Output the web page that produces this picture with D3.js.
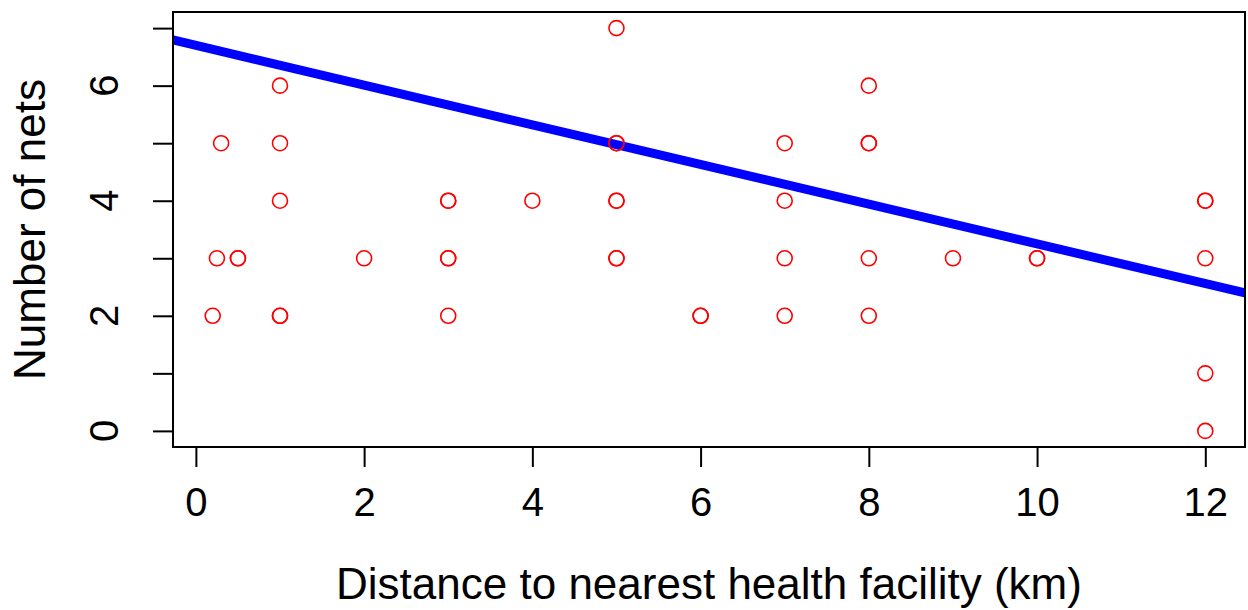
<!DOCTYPE html>
<html>
<head>
<meta charset="utf-8">
<script src="https://cdn.jsdelivr.net/npm/d3@7"></script>
<style>
  body { margin: 0; background: #fff; }
  text { font-family: "Liberation Sans", Arial, sans-serif; fill: #000; }
</style>
</head>
<body>
<div id="my_dataviz"></div>
<script>

// data (repeated pairs = overlapping points)
var distance = [0.2, 0.25, 0.3, 0.5, 0.5,
                1, 1, 1, 1, 1,
                2,
                3, 3, 3, 3, 3,
                4,
                5, 5, 5, 5, 5, 5, 5,
                6, 6,
                7, 7, 7, 7,
                8, 8, 8, 8, 8,
                9,
                10, 10,
                12, 12, 12, 12, 12];
var nets     = [2, 3, 5, 3, 3,
                6, 5, 4, 2, 2,
                3,
                4, 4, 3, 3, 2,
                4,
                7, 5, 5, 4, 4, 3, 3,
                2, 2,
                5, 4, 3, 2,
                6, 5, 5, 3, 2,
                3,
                3, 3,
                4, 4, 3, 1, 0];

// fitted line (intercept, slope)
var fitIntercept = 6.70;
var fitSlope = -0.345;

var xTicks = [0, 2, 4, 6, 8, 10, 12];
var yTicks = [0, 1, 2, 3, 4, 5, 6, 7];
var yLabels = [0, 2, 4, 6];

// set the dimensions and margins of the graph
var margin = {top: 12, right: 3, bottom: 163, left: 173},
    width = 1248 - margin.left - margin.right,
    height = 610 - margin.top - margin.bottom;

var svg = d3.select("#my_dataviz")
  .append("svg")
    .attr("width", 1248)
    .attr("height", 610);

var chart = svg.append("g")
    .attr("transform", "translate(" + margin.left + "," + margin.top + ")");

// R style 4% padding on each side
var xPad = (d3.max(distance) - d3.min(distance)) * 0.04;
var yPad = (d3.max(nets) - d3.min(nets)) * 0.04;

var x = d3.scaleLinear()
  .domain([d3.min(distance) - xPad, d3.max(distance) + xPad])
  .range([0, width]);

var y = d3.scaleLinear()
  .domain([d3.min(nets) - yPad, d3.max(nets) + yPad])
  .range([height, 0]);

// X axis
var xAxis = chart.append("g")
  .attr("transform", "translate(0," + height + ")")
  .call(d3.axisBottom(x).tickValues(xTicks).tickSize(20).tickPadding(21));
xAxis.select(".domain").remove();
xAxis.selectAll(".tick line").attr("stroke", "#000").attr("stroke-width", 2);
xAxis.selectAll(".tick text")
  .style("font-size", "40px")
  .style("font-family", "'Liberation Sans', Arial, sans-serif")
  .attr("fill", "#000");

// Y axis (labels rotated, only every second one)
var yAxis = chart.append("g")
  .call(d3.axisLeft(y).tickValues(yTicks).tickSize(20).tickFormat(""));
yAxis.select(".domain").remove();
yAxis.selectAll(".tick line").attr("stroke", "#000").attr("stroke-width", 2);

chart.append("g")
  .selectAll("text")
  .data(yLabels)
  .enter()
  .append("text")
    .attr("transform", function(d) { return "translate(" + (118 - margin.left) + "," + y(d) + ") rotate(-90)"; })
    .attr("text-anchor", "middle")
    .style("font-size", "40px")
    .text(function(d) { return d; });

// X label
chart.append("text")
  .attr("text-anchor", "middle")
  .attr("x", width / 2)
  .attr("y", height + 152)
  .style("font-size", "44px")
  .text("Distance to nearest health facility (km)");

// Y label
chart.append("text")
  .attr("text-anchor", "middle")
  .attr("transform", "translate(" + (45 - margin.left) + "," + (height / 2) + ") rotate(-90)")
  .style("font-size", "44px")
  .text("Number of nets");

// clip for the regression line
chart.append("clipPath")
  .attr("id", "plotclip")
  .append("rect")
    .attr("width", width)
    .attr("height", height);

var xs = x.domain();
chart.append("line")
  .attr("clip-path", "url(#plotclip)")
  .attr("x1", x(xs[0]))
  .attr("y1", y(fitIntercept + fitSlope * xs[0]))
  .attr("x2", x(xs[1]))
  .attr("y2", y(fitIntercept + fitSlope * xs[1]))
  .attr("stroke", "#0000ff")
  .attr("stroke-width", 9);

// points
chart.append("g")
  .selectAll("circle")
  .data(distance)
  .enter()
  .append("circle")
    .attr("cx", function(d) { return x(d); })
    .attr("cy", function(d, i) { return y(nets[i]); })
    .attr("r", 7.5)
    .attr("fill", "none")
    .attr("stroke", "#ff0000")
    .attr("stroke-width", 1.6);

// plot box
chart.append("rect")
  .attr("width", width)
  .attr("height", height)
  .attr("fill", "none")
  .attr("stroke", "#000")
  .attr("stroke-width", 2);

</script>
</body>
</html>
